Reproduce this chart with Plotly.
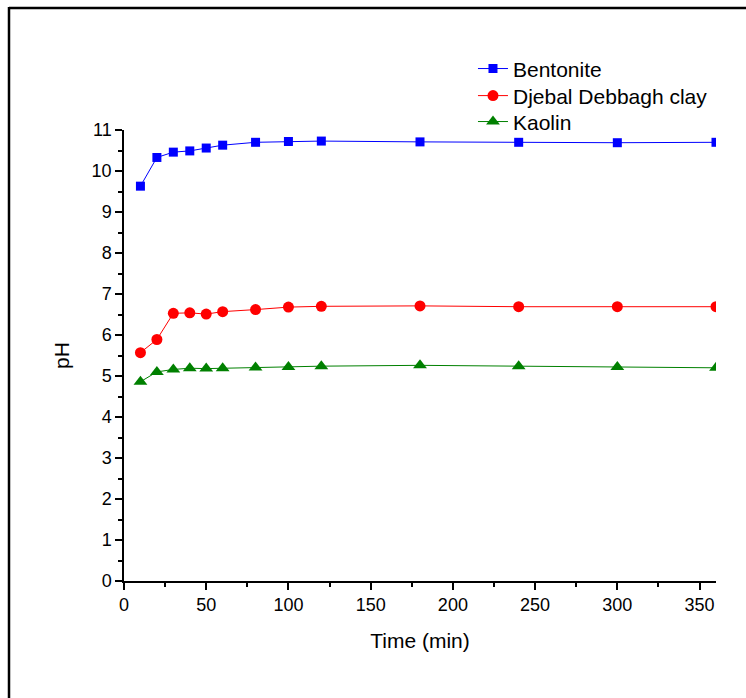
import plotly.graph_objects as go

# Contact time (min)
time_min = [10, 20, 30, 40, 50, 60, 80, 100, 120, 180, 240, 300, 360]

# pH of the suspensions over time
ph_bentonite = [9.63, 10.33, 10.46, 10.49, 10.56, 10.63, 10.70, 10.72, 10.73, 10.71, 10.70, 10.69, 10.70]
ph_djebal = [5.57, 5.89, 6.53, 6.54, 6.51, 6.57, 6.62, 6.68, 6.70, 6.71, 6.69, 6.69, 6.69]
ph_kaolin = [4.86, 5.10, 5.16, 5.19, 5.18, 5.19, 5.21, 5.22, 5.24, 5.26, 5.24, 5.22, 5.20]

series = [
    ("Bentonite", ph_bentonite, "#0000FF", "square", 9),
    ("Djebal Debbagh clay", ph_djebal, "#FF0000", "circle", 11),
    ("Kaolin", ph_kaolin, "#008000", "triangle-up", 12),
]

FONT = "Arial, Liberation Sans, sans-serif"
legend_names = ["legend", "legend2", "legend3"]
legend_y = [1.1355, 1.0755, 1.018]

fig = go.Figure()
for (name, vals, color, sym, size), lg in zip(series, legend_names):
    fig.add_trace(go.Scatter(
        x=time_min, y=vals, name=name, mode="lines+markers",
        line=dict(color=color, width=1),
        marker=dict(symbol=sym, size=size, color=color, line=dict(width=0)),
        legend=lg,
    ))

axis_common = dict(
    showline=True, linecolor="black", linewidth=1.5, mirror=False,
    ticks="outside", ticklen=7, tickwidth=1.5, tickcolor="black",
    showgrid=False, zeroline=False,
    tickfont=dict(family=FONT, size=18, color="black"),
)
minor_common = dict(ticks="outside", ticklen=4, tickwidth=1.5, tickcolor="black")

legend_style = dict(x=0.5895, xanchor="left", yanchor="middle",
                    font=dict(family=FONT, size=21, color="black"),
                    bgcolor="rgba(0,0,0,0)")

fig.update_layout(
    width=746, height=698,
    margin=dict(l=124, r=30, t=130, b=117),
    paper_bgcolor="white", plot_bgcolor="white",
    font=dict(family=FONT, color="black"),
    xaxis=dict(range=[0, 360], dtick=50, tick0=0,
               title=dict(text="Time (min)", font=dict(family=FONT, size=21), standoff=19),
               minor=dict(minor_common, dtick=25), **axis_common),
    yaxis=dict(range=[0, 11], dtick=1, tick0=0,
               title=dict(text="pH", font=dict(family=FONT, size=21), standoff=16),
               minor=dict(minor_common, dtick=0.5), **axis_common),
    legend=dict(legend_style, y=legend_y[0]),
    legend2=dict(legend_style, y=legend_y[1]),
    legend3=dict(legend_style, y=legend_y[2]),
    showlegend=True,
)

# Outer frame: top and left edges
fig.add_shape(type="line", xref="paper", yref="paper",
              x0=(9 - 124) / 592, x1=(748 - 124) / 592,
              y0=(581 - 8) / 451, y1=(581 - 8) / 451,
              line=dict(color="black", width=2.5))
fig.add_shape(type="line", xref="paper", yref="paper",
              x0=(9 - 124) / 592, x1=(9 - 124) / 592,
              y0=(581 - 7) / 451, y1=(581 - 700) / 451,
              line=dict(color="black", width=2.5))

fig.write_html("out.html")
